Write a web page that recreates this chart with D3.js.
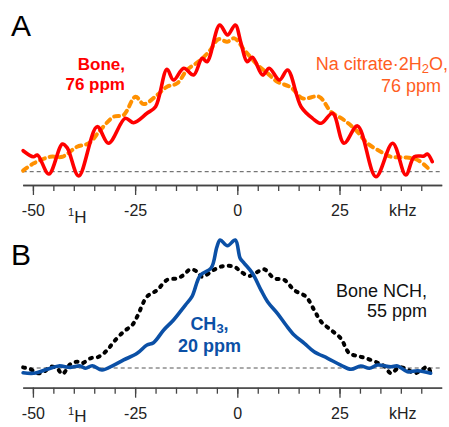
<!DOCTYPE html>
<html>
<head>
<meta charset="utf-8">
<script src="https://cdn.jsdelivr.net/npm/d3@7"></script>
<style>
  html, body { margin: 0; padding: 0; background: #fff; }
  svg { display: block; font-family: "Liberation Sans", Arial, Helvetica, sans-serif; }
</style>
</head>
<body>
<svg id="chart" width="449" height="427"></svg>
<script>
// ---- Data (frequency offset in kHz, relative intensity in %) ----
const boneA_khz = [-52.4,-49.9,-48.9,-46.1,-42.8,-41.6,-38.8,-34.3,-31.5,-27.4,-25.4,-22.1,-20.0,-17.2,-15.6,-13.1,-10.7,-8.6,-7.4,-4.3,-2.4,-0.5,0.9,2.4,3.7,6.2,7.8,10.3,12.3,15.6,18.4,20.5,23.3,26.1,29.4,33.9,38.0,41.2,43.3,45.7,46.5,47.7];
const boneA_int = [14.3,10.2,11.4,-1.6,18.9,16.2,-2.9,30.7,19.4,36.4,33.4,39.8,44.3,69.8,62.5,70.5,65.9,77.3,75.0,100,93.2,100,87.7,75.0,78.0,65.9,70.5,62.5,69.3,44.3,36.4,33.0,39.8,19.4,31.2,-3.4,19.4,-2.2,10.2,10.7,12.1,6.8];

const citrate_khz = [-52.4,-49.8,-45.7,-42.8,-39.2,-36.3,-33.5,-30.2,-27.8,-24.9,-22.9,-19.6,-17.2,-14.7,-12.3,-9.0,-6.6,-4.6,-2.5,-0.7,1.7,5.0,7.4,9.8,13.1,16.0,20.0,22.9,26.1,29.0,31.8,35.1,37.6,40.8,44.1,47.3];
const citrate_int = [0.7,5.7,10.2,10.2,17.0,19.4,28.4,37.5,38.7,51.1,46.1,52.3,57.9,60.3,69.3,76.1,83.0,90.3,88.6,90.9,83.0,72.7,67.1,61.3,57.5,50.0,51.1,40.9,35.2,28.4,19.4,13.6,10.2,9.8,8.0,0.7];

const ch3_khz = [-52.4,-49.8,-46.5,-43.7,-40.8,-38.4,-37.1,-35.5,-33.1,-30.2,-27.8,-24.5,-22.1,-20.5,-18.0,-15.6,-12.7,-11.1,-9.0,-6.4,-5.0,-4.2,-2.4,-0.5,0.7,1.7,3.7,5.8,7.4,9.8,11.9,13.9,16.4,18.8,22.1,25.3,27.8,30.2,32.3,34.3,37.6,39.2,41.6,44.1,47.3];
const ch3_int = [-3.7,-4.1,-1.0,1.6,0.5,1.6,-0.2,1.8,-1.6,2.3,6.3,11.5,18.0,19.8,29.7,37.5,49.2,55.7,72.7,78.1,94.5,100,95.5,100,85.7,81.8,74.0,60.9,51.8,42.7,33.6,25.8,19.3,12.7,7.6,2.3,-1.0,1.6,-0.2,2.3,1.0,1.6,-2.9,-2.1,-4.1];

const nch_khz = [-52.4,-50.6,-48.9,-47.3,-45.7,-44.1,-42.8,-40.8,-39.2,-38.0,-35.9,-33.9,-31.8,-30.2,-27.8,-25.7,-24.5,-22.1,-19.6,-17.2,-14.7,-13.1,-11.5,-9.8,-8.6,-5.8,-3.3,-0.7,0.9,2.9,5.0,6.6,9.0,11.5,13.9,16.8,18.8,20.5,22.9,25.3,27.4,29.4,31.5,34.3,35.9,37.6,39.6,41.6,43.3,45.3,46.5,47.3];
const nch_int = [0.5,-1.0,-4.1,-2.9,1.0,-0.2,-4.7,3.1,4.9,3.7,7.6,8.8,14.1,20.5,28.4,33.6,40.1,55.7,60.9,68.8,70.1,72.7,77.1,75.2,71.3,76.6,79.7,79.1,75.2,71.9,75.2,77.1,70.1,68.8,60.9,55.7,45.3,36.2,29.7,23.2,11.5,9.4,7.6,4.1,1.6,-4.1,0.5,-1.0,-4.1,-1.0,1.0,-3.7];

const majorTicks = [-50, -25, 0, 25];
const minorTicks = d3.range(-50, 50, 5);
const axisUnit = "kHz";
const nucleus = "H";
const nucleusMass = "1";

// ---- Layout ----
const svg = d3.select("#chart");
const x = d3.scaleLinear().domain([-52.5, 50]).range([22.7, 441.7]);

const panels = [
  { letter: "A", letterY: 36, y0: 171.7, y100: 25, axisY: 185, nucDy: 38,
    series: [
      { k: citrate_khz, v: citrate_int, color: "#ff9000", width: 4, dash: "5,5", cap: "round" },
      { k: boneA_khz, v: boneA_int, color: "#ff0000", width: 3.6, dash: null, cap: "round" }
    ] },
  { letter: "B", letterY: 265, y0: 368, y100: 240, axisY: 387.7, nucDy: 34.5,
    series: [
      { k: nch_khz, v: nch_int, color: "#000000", width: 4, dash: "2,6", cap: "round" },
      { k: ch3_khz, v: ch3_int, color: "#0b50a6", width: 3.6, dash: null, cap: "round" }
    ] }
];

panels.forEach(p => {
  const y = d3.scaleLinear().domain([0, 100]).range([p.y0, p.y100]);
  const g = svg.append("g");

  // panel letter
  g.append("text").attr("x", 11).attr("y", p.letterY)
    .attr("font-size", 30).attr("fill", "#000").text(p.letter);

  // dashed zero baseline
  g.append("line").attr("x1", x(-52.5)).attr("x2", x(50))
    .attr("y1", y(0)).attr("y2", y(0))
    .attr("stroke", "#555").attr("stroke-width", 1).attr("stroke-dasharray", "4,3");

  // spectra
  p.series.forEach(s => {
    const pts = s.k.map((k, i) => [k, s.v[i]]);
    const line = d3.line().x(d => x(d[0])).y(d => y(d[1])).curve(d3.curveCatmullRom.alpha(0.5));
    const path = g.append("path").attr("d", line(pts))
      .attr("fill", "none").attr("stroke", s.color).attr("stroke-width", s.width)
      .attr("stroke-linecap", s.cap).attr("stroke-linejoin", "round");
    if (s.dash) path.attr("stroke-dasharray", s.dash);
  });

  // axes
  const minorAxis = d3.axisBottom(x).tickValues(minorTicks).tickSize(6).tickSizeOuter(0).tickFormat("");
  const gm = g.append("g").attr("transform", `translate(0,${p.axisY})`).call(minorAxis);
  const majorAxis = d3.axisBottom(x).tickValues(majorTicks).tickSize(10).tickSizeOuter(0).tickPadding(9.5).tickFormat(d => String(d));
  const ga = g.append("g").attr("transform", `translate(0,${p.axisY})`).call(majorAxis);
  [gm, ga].forEach(a => {
    a.select(".domain").attr("stroke", "#444").attr("stroke-width", 1.3);
    a.selectAll(".tick line").attr("stroke", "#444").attr("stroke-width", 1.3);
  });
  ga.selectAll(".tick text").attr("font-size", 16).attr("fill", "#222")
    .attr("font-family", "Liberation Sans, Arial, sans-serif");

  g.append("text").attr("x", x(40) + 2).attr("y", p.axisY + 31)
    .attr("text-anchor", "middle").attr("font-size", 16).attr("fill", "#222").text(axisUnit);

  const nuc = g.append("text").attr("x", 68).attr("y", p.axisY + p.nucDy).attr("fill", "#222");
  nuc.append("tspan").attr("font-size", 11).attr("dy", -7).text(nucleusMass);
  nuc.append("tspan").attr("font-size", 17).attr("dy", 7).text(nucleus);
});

// ---- Labels ----
function label(xp, yp, lines, opts) {
  const t = svg.append("text").attr("text-anchor", opts.anchor)
    .attr("font-size", opts.size).attr("font-weight", opts.weight).attr("fill", opts.color);
  lines.forEach((ln, i) => {
    const ts = t.append("tspan").attr("x", xp[i]).attr("y", yp[i]);
    ln.forEach(part => {
      const s = ts.append("tspan").text(part.t);
      if (part.sub) s.attr("font-size", opts.size * 0.72).attr("dy", 3);
      if (part.after) s.attr("dy", -3);
    });
  });
}

label([125, 125], [70, 90], [[{ t: "Bone," }], [{ t: "76 ppm" }]],
  { anchor: "end", size: 17, weight: "bold", color: "#ff0000" });

label([448, 441], [70, 92], [[{ t: "Na citrate·2H" }, { t: "2", sub: true }, { t: "O,", after: true }], [{ t: "76 ppm" }]],
  { anchor: "end", size: 18, weight: "normal", color: "#ff5e1f" });

label([209.5, 209.5], [330, 352], [[{ t: "CH" }, { t: "3", sub: true }, { t: ",", after: true }], [{ t: "20 ppm" }]],
  { anchor: "middle", size: 18, weight: "bold", color: "#0b50a6" });

label([427, 427], [297, 317], [[{ t: "Bone NCH," }], [{ t: "55 ppm" }]],
  { anchor: "end", size: 18, weight: "normal", color: "#111" });
</script>
</body>
</html>
